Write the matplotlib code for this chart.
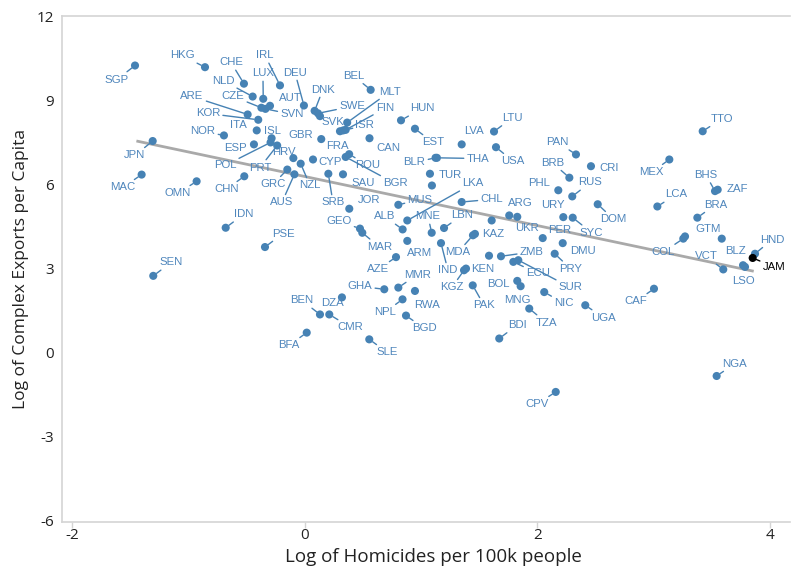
import matplotlib
matplotlib.use("Agg")
import matplotlib.pyplot as plt
import numpy as np

plt.rcParams["axes.unicode_minus"] = False

# Country codes with log homicide rate (x) and log complex exports per capita (y)
countries = [
    "SGP", "HKG", "CHE", "IRL", "NLD", "LUX", "ARE", "CZE", "AUT", "SVN",
    "DEU", "KOR", "ITA", "NOR", "ISL", "ESP", "POL", "PRT", "HRV", "GRC",
    "AUS", "NZL", "CYP", "JPN", "MAC", "CHN", "OMN", "IDN", "PSE", "SEN",
    "DNK", "SWE", "SVK", "BEL", "MLT", "FIN", "ISR", "FRA", "GBR", "CAN",
    "ROU", "BGR", "SAU", "SRB", "HUN", "EST", "LVA", "LTU", "USA", "BLR",
    "THA", "TUR", "", "LKA", "CHL", "MUS", "JOR", "GEO", "MAR", "ALB",
    "MNE", "LBN", "ARM", "MDA", "KAZ", "IND", "AZE", "KGZ", "KEN", "MMR",
    "GHA", "RWA", "NPL", "BEN", "DZA", "CMR", "BFA", "SLE", "BGD", "PAK",
    "BOL", "MNG", "", "ZMB", "ECU", "SUR", "BDI", "TZA", "NIC", "UGA",
    "CAF", "CPV", "NGA", "", "ARG", "UKR", "PER", "DMU", "PRY", "URY",
    "SYC", "DOM", "PAN", "CRI", "BRB", "PHL", "RUS", "TTO", "MEX", "LCA",
    "BHS", "ZAF", "BRA", "COL", "", "GTM", "BLZ", "VCT", "LSO", "HND",
    "JAM",
]

log_homicides = [
    -1.462, -0.860, -0.525, -0.215, -0.450, -0.359, -0.493, -0.375, -0.301, -0.340,
    -0.009, -0.402, -0.415, -0.697, -0.287, -0.439, -0.296, -0.239, -0.100, -0.152,
    -0.091, -0.037, 0.069, -1.310, -1.405, -0.522, -0.932, -0.682, -0.344, -1.305,
    0.083, 0.112, 0.129, 0.565, 0.363, 0.350, 0.329, 0.301, 0.140, 0.555,
    0.380, 0.350, 0.327, 0.201, 0.826, 0.946, 1.348, 1.626, 1.643, 1.123,
    1.135, 1.075, 1.092, 0.880, 1.348, 0.803, 0.381, 0.473, 0.493, 0.840,
    1.090, 1.196, 0.880, 1.445, 1.462, 1.170, 0.783, 1.368, 1.385, 0.803,
    0.682, 0.946, 0.839, 0.129, 0.318, 0.209, 0.015, 0.553, 0.869, 1.443,
    1.826, 1.855, 1.583, 1.686, 1.792, 1.835, 1.671, 1.929, 2.058, 2.411,
    3.002, 2.157, 3.541, 1.606, 1.757, 1.826, 2.045, 2.217, 2.148, 2.222,
    2.303, 2.518, 2.331, 2.460, 2.274, 2.179, 2.299, 3.421, 3.134, 3.031,
    3.527, 3.550, 3.375, 3.254, 3.269, 3.585, 3.768, 3.598, 3.785, 3.871,
    3.851,
]

log_exports = [
    10.25, 10.19, 9.60, 9.54, 9.14, 9.06, 8.50, 8.74, 8.81, 8.70,
    8.82, 8.31, 7.93, 7.75, 7.65, 7.43, 7.50, 7.39, 6.94, 6.53,
    6.36, 6.74, 6.89, 7.55, 6.35, 6.29, 6.11, 4.45, 3.76, 2.73,
    8.63, 8.54, 8.44, 9.38, 8.21, 7.95, 7.93, 7.90, 7.62, 7.65,
    7.08, 6.98, 6.36, 6.38, 8.29, 7.99, 7.43, 7.89, 7.33, 6.95,
    6.95, 6.38, 5.96, 4.71, 5.37, 5.27, 5.13, 4.42, 4.27, 4.39,
    4.27, 4.44, 3.98, 4.18, 4.23, 3.90, 3.40, 2.93, 2.99, 2.31,
    2.25, 2.19, 1.89, 1.35, 1.96, 1.35, 0.70, 0.46, 1.31, 2.39,
    2.55, 2.36, 3.45, 3.43, 3.23, 3.29, 0.49, 1.56, 2.15, 1.68,
    2.27, -1.42, -0.85, 4.71, 4.89, 4.84, 4.08, 3.90, 3.52, 4.83,
    4.81, 5.29, 7.07, 6.65, 6.24, 5.79, 5.57, 7.90, 6.89, 5.21,
    5.76, 5.81, 4.81, 4.06, 4.14, 4.06, 3.11, 2.96, 3.05, 3.52,
    3.37,
]

highlight = "JAM"

# Linear fit drawn across the data range
fit_intercept = 6.28
fit_slope = -0.877
fit_range = [-1.45, 3.86]

# Label placement: offset of each label centre from its point, in pixels (right, down)
label_shift = {
    "SGP": (-18, 14), "HKG": (-23, -11.7), "CHE": (-13, -21.3), "IRL": (-15, -30),
    "NLD": (-29.7, -16), "LUX": (-0.3, -25.3), "ARE": (-55.7, -18), "CZE": (-28.4, -11.4),
    "AUT": (20, -8.2), "SVN": (26.5, 5.5), "DEU": (-9, -33), "KOR": (-50.3, -6.3),
    "ITA": (-18.7, -5), "NOR": (-21, -4), "ISL": (1, -7.7), "ESP": (-19, 4),
    "POL": (-45.6, 23), "PRT": (-17.2, 22), "HRV": (-9.4, -5.7), "GRC": (-14.3, 14.7),
    "AUS": (-12.4, 28), "NZL": (9.3, 21.7), "CYP": (17, 3), "JPN": (-17.7, 14.3),
    "MAC": (-18.7, 12.7), "CHN": (-18, 13), "OMN": (-18.7, 12), "IDN": (18, -13.5),
    "PSE": (18, -13.5), "SEN": (18, -13.5), "DNK": (8.3, -21.3), "SWE": (34, -7),
    "SVK": (13, 6.2), "BEL": (-17, -14), "MLT": (42.8, -31), "FIN": (39.3, -21.4),
    "ISR": (21.7, -5), "FRA": (-3, 14.3), "GBR": (-20.3, -3.7), "CAN": (18.5, 9.3),
    "ROU": (18.8, 11.3), "BGR": (49.3, 26.4), "SAU": (20, 9), "SRB": (4.6, 28.7),
    "HUN": (21, -12), "EST": (18, 13.7), "LVA": (12.3, -13), "LTU": (18, -13.5),
    "USA": (17, 14), "BLR": (-21, 4.5), "THA": (41, 0.7), "TUR": (20, 1.7),
    "LKA": (65.7, -37), "CHL": (30, -2.7), "MUS": (21.7, -5.3), "JOR": (19.7, -8.3),
    "GEO": (-21, -7.3), "MAR": (17, 14), "ALB": (-18, -13), "MNE": (-3.7, -16.3),
    "LBN": (18, -12.7), "ARM": (12.7, 12.3), "MDA": (-15, 17), "KAZ": (18, 0.5),
    "IND": (7, 27.3), "AZE": (-18, 12.3), "KGZ": (-12, 17), "KEN": (17, 0.7),
    "MMR": (19, -13), "GHA": (-24.3, -3), "RWA": (12, 14.3), "NPL": (-17.5, 12.8),
    "BEN": (-18, -14), "DZA": (-9, 6), "CMR": (21.4, 13), "BFA": (-17.7, 12.7),
    "SLE": (18, 13), "BGD": (18, 12.7), "PAK": (11.3, 20), "BOL": (-19.3, 3.3),
    "MNG": (-3.4, 13.3), "ZMB": (30.7, -4.3), "ECU": (24.7, 11.6), "SUR": (52.4, 27.3),
    "BDI": (18, -13.5), "TZA": (17, 14), "NIC": (19.7, 11.3), "UGA": (18, 12.3),
    "CAF": (-18, 12.7), "CPV": (-19, 12.3), "NGA": (18.3, -12.4), "ARG": (10.7, -12),
    "UKR": (9.4, 10.8), "PER": (17.3, -8.4), "DMU": (20, 8), "PRY": (16, 15),
    "URY": (-10.3, -11.7), "SYC": (19, 15), "DOM": (16, 15), "PAN": (-18.7, -12.3),
    "CRI": (18.3, 1.6), "BRB": (-17, -15), "PHL": (-19.3, -7.7), "RUS": (18, -14),
    "TTO": (19, -12.4), "MEX": (-17.6, 12.7), "LCA": (18.7, -12), "BHS": (-9, -16),
    "ZAF": (19.6, -0.3), "BRA": (18, -13), "COL": (-20, 13.4), "GTM": (-14, -10),
    "BLZ": (-8, -14), "VCT": (-17.3, -13), "LSO": (-2, 14), "HND": (17, -14),
    "JAM": (21.3, 9),
}

POINT_COLOR = "#4682b4"
TEXT_COLOR = "#4f86bc"
FIT_COLOR = "#a9a9a9"
SPINE_COLOR = "#d4d4d4"

fig = plt.figure(figsize=(7.96, 5.71), dpi=100)
ax = fig.add_axes([62 / 796, 1 - 522 / 571, 728 / 796, 506 / 571])
ax.set_xlim(-2.09, 4.172)
ax.set_ylim(-6.07, 12.02)

x = np.array(log_homicides)
y = np.array(log_exports)
colors = [("black" if c == highlight else POINT_COLOR) for c in countries]

# Regression line
fx = np.array(fit_range)
ax.plot(fx, fit_intercept + fit_slope * fx, color=FIT_COLOR, lw=2.0,
        solid_capstyle="butt", zorder=2)

ax.scatter(x, y, s=34, c=colors, edgecolors="none", zorder=3)

# Labels with leader segments when the label sits away from its point
half_w, half_h, min_gap = 11.0, 5.0, 10.0
for code, xi, yi in zip(countries, x, y):
    if not code:
        continue
    dx, dy = label_shift[code]
    gx = max(abs(dx) - half_w, 0.0)
    gy = max(abs(dy) - half_h, 0.0)
    col = "black" if code == highlight else TEXT_COLOR
    lcol = "black" if code == highlight else POINT_COLOR
    arrow = None
    if np.hypot(gx, gy) >= min_gap:
        arrow = dict(arrowstyle="-", color=lcol, lw=1.0, shrinkA=0, shrinkB=3)
    ax.annotate(code, (xi, yi), xytext=(dx, -dy), textcoords="offset pixels",
                ha="center", va="center", fontsize=8.2,
                family="Liberation Sans", color=col,
                arrowprops=arrow, zorder=4)

# Axes styling
for side in ("left", "bottom", "top"):
    ax.spines[side].set_color(SPINE_COLOR)
    ax.spines[side].set_linewidth(1.2)
ax.spines["right"].set_visible(False)

ax.set_xticks([-2, 0, 2, 4])
ax.set_yticks([-6, -3, 0, 3, 6, 9, 12])
ax.tick_params(axis="both", colors=SPINE_COLOR, length=4, width=1.0,
               labelcolor="#222222", labelsize=11)
for lab in ax.get_xticklabels() + ax.get_yticklabels():
    lab.set_family("Open Sans")
ax.tick_params(axis="x", pad=0)
ax.tick_params(axis="y", length=0, pad=6)

fig.text(433 / 796, 1 - 547.5 / 571, "Log of Homicides per 100k people",
         ha="center", va="top", fontsize=13.5, family="Open Sans",
         color="#222222")
fig.text(21 / 796, 1 - 269 / 571, "Log of Complex Exports per Capita",
         ha="center", va="center", rotation=90, fontsize=12.5,
         family="Open Sans", color="#222222")

fig.savefig("out.png", dpi=100)
